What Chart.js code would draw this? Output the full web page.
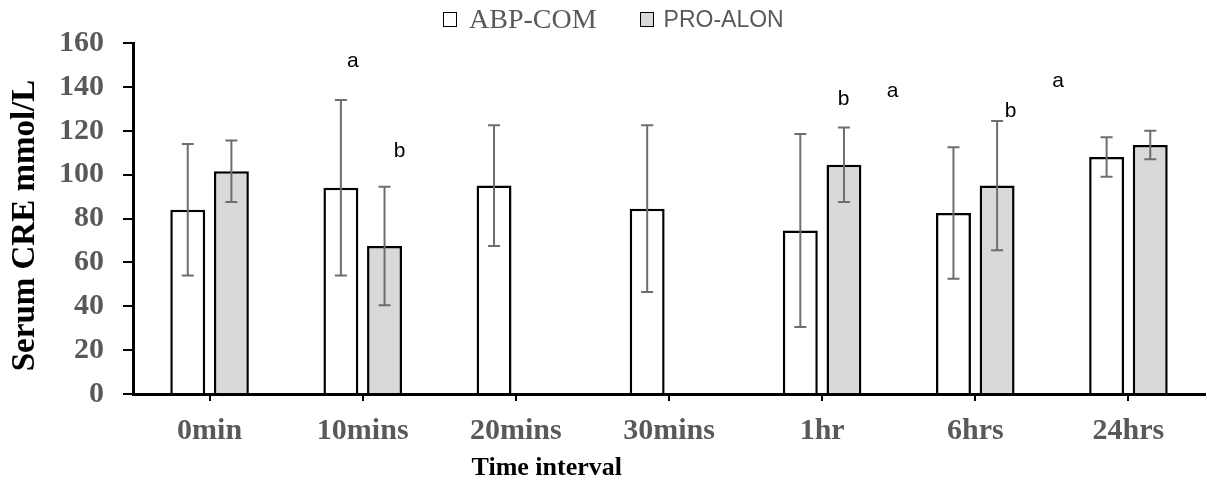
<!DOCTYPE html>
<html>
<head>
<meta charset="utf-8">
<script src="https://cdn.jsdelivr.net/npm/chart.js@4.4.1/dist/chart.umd.min.js"></script>
<style>
  html, body { margin: 0; padding: 0; background: #fff; }
  .wrap { position: relative; width: 1207px; height: 483px; }
  canvas { position: absolute; left: 0; top: 0; }
  .legend { position: absolute; top: 4px; left: 443px; display: flex; align-items: center; height: 30px; }
  .legend .box { width: 12px; height: 13px; border: 1.5px solid #000; display: inline-block; }
  .legend .lbl1 { font-family: "Liberation Serif", "Times New Roman", serif; font-size: 28px; color: #595959; margin-left: 12px; margin-right: 43px; }
  .legend .lbl2 { font-family: "Liberation Sans", Arial, sans-serif; font-size: 23px; color: #595959; margin-left: 10px; }
</style>
</head>
<body>
<div class="wrap">
  <canvas id="chart" width="1207" height="483"></canvas>
  <div class="legend">
    <span class="box" style="background:#fff"></span><span class="lbl1">ABP-COM</span>
    <span class="box" style="background:#d9d9d9"></span><span class="lbl2">PRO-ALON</span>
  </div>
</div>
<script>
// ── Data ─────────────────────────────────────
const timeLabels = ['0min', '10mins', '20mins', '30mins', '1hr', '6hrs', '24hrs'];
const abpMean = [84, 94, 95, 84.5, 74.5, 82.5, 108];
const abpErr  = [30, 40, 27.5, 38, 44, 30, 9];
const proMean = [101.5, 67.5, null, null, 104.5, 95, 113.5];
const proErr  = [14, 27, null, null, 17, 29.5, 6.5];
const yTicks  = [0, 20, 40, 60, 80, 100, 120, 140, 160];

// significance letters: category, offset (fraction of category width), value
const sigText = ['a', 'b', 'b', 'a', 'b', 'a'];
const sigCat  = [1, 1, 4, 4, 5, 5];
const sigDx   = [-0.065, 0.24, 0.14, 0.46, 0.23, 0.54];
const sigVal  = [151.6, 110.5, 134.2, 137.9, 128.8, 142.5];

const serif = "'Liberation Serif', 'Times New Roman', serif";
const sans  = "'Liberation Sans', Arial, sans-serif";

// ── Error bars ───────────────────────────────
const errorBars = {
  id: 'errorBars',
  afterDatasetsDraw(chart) {
    const { ctx, scales: { y } } = chart;
    const errs = [abpErr, proErr];
    ctx.save();
    ctx.strokeStyle = '#6e6e6e';
    ctx.lineWidth = 2;
    chart.data.datasets.forEach((ds, di) => {
      chart.getDatasetMeta(di).data.forEach((bar, i) => {
        const v = ds.data[i], e = errs[di][i];
        if (v == null || e == null) return;
        const x = bar.x;
        const yt = y.getPixelForValue(v + e), yb = y.getPixelForValue(v - e);
        ctx.beginPath();
        ctx.moveTo(x, yt); ctx.lineTo(x, yb);
        ctx.moveTo(x - 6, yt); ctx.lineTo(x + 6, yt);
        ctx.moveTo(x - 6, yb); ctx.lineTo(x + 6, yb);
        ctx.stroke();
      });
    });
    ctx.restore();
  }
};

// ── Letters + axis titles ────────────────────
const annotations = {
  id: 'annotations',
  afterDraw(chart) {
    const { ctx, chartArea, scales: { x, y } } = chart;
    const catW = x.width / timeLabels.length;
    ctx.save();
    ctx.fillStyle = '#000';
    ctx.textAlign = 'center';
    ctx.textBaseline = 'middle';

    ctx.font = `21px ${sans}`;
    sigText.forEach((t, i) => {
      ctx.fillText(t, x.getPixelForValue(sigCat[i]) + sigDx[i] * catW, y.getPixelForValue(sigVal[i]));
    });

    // x title (sits left of centre in the original)
    ctx.font = `bold 26px ${serif}`;
    ctx.fillText('Time interval', chartArea.left + 0.386 * (chartArea.right - chartArea.left), 468);

    // y title
    ctx.font = `bold 33px ${serif}`;
    ctx.translate(25, (chartArea.top + chartArea.bottom) / 2 + 7);
    ctx.rotate(-Math.PI / 2);
    ctx.fillText('Serum CRE mmol/L', 0, 0);
    ctx.restore();
  }
};

// ── Chart ────────────────────────────────────
new Chart(document.getElementById('chart'), {
  type: 'bar',
  data: {
    labels: timeLabels,
    datasets: [
      { label: 'ABP-COM', data: abpMean, backgroundColor: '#ffffff', borderColor: '#000', borderWidth: 2.5 },
      { label: 'PRO-ALON', data: proMean, backgroundColor: '#d9d9d9', borderColor: '#000', borderWidth: 2.5 }
    ]
  },
  options: {
    responsive: false,
    animation: false,
    categoryPercentage: 0.57,
    barPercentage: 0.8,
    layout: { padding: { top: 43, right: 2, bottom: 0, left: 0 } },
    plugins: { legend: { display: false }, tooltip: { enabled: false } },
    scales: {
      x: {
        afterFit: s => { s.height = 89; },
        grid: { display: true, drawOnChartArea: false, offset: false, color: '#000', lineWidth: 2, tickLength: 7 },
        border: { color: '#000', width: 3 },
        ticks: { color: '#595959', padding: 12, font: { family: serif, size: 30, weight: 'bold' } }
      },
      y: {
        min: 0, max: 160,
        afterFit: s => { s.width = 133; },
        afterBuildTicks: s => { s.ticks = yTicks.map(v => ({ value: v })); },
        grid: { display: true, drawOnChartArea: false, color: '#000', lineWidth: 2, tickLength: 10 },
        border: { color: '#000', width: 3 },
        ticks: { color: '#595959', padding: 19, font: { family: serif, size: 30, weight: 'bold' } }
      }
    }
  },
  plugins: [errorBars, annotations]
});
</script>
</body>
</html>
